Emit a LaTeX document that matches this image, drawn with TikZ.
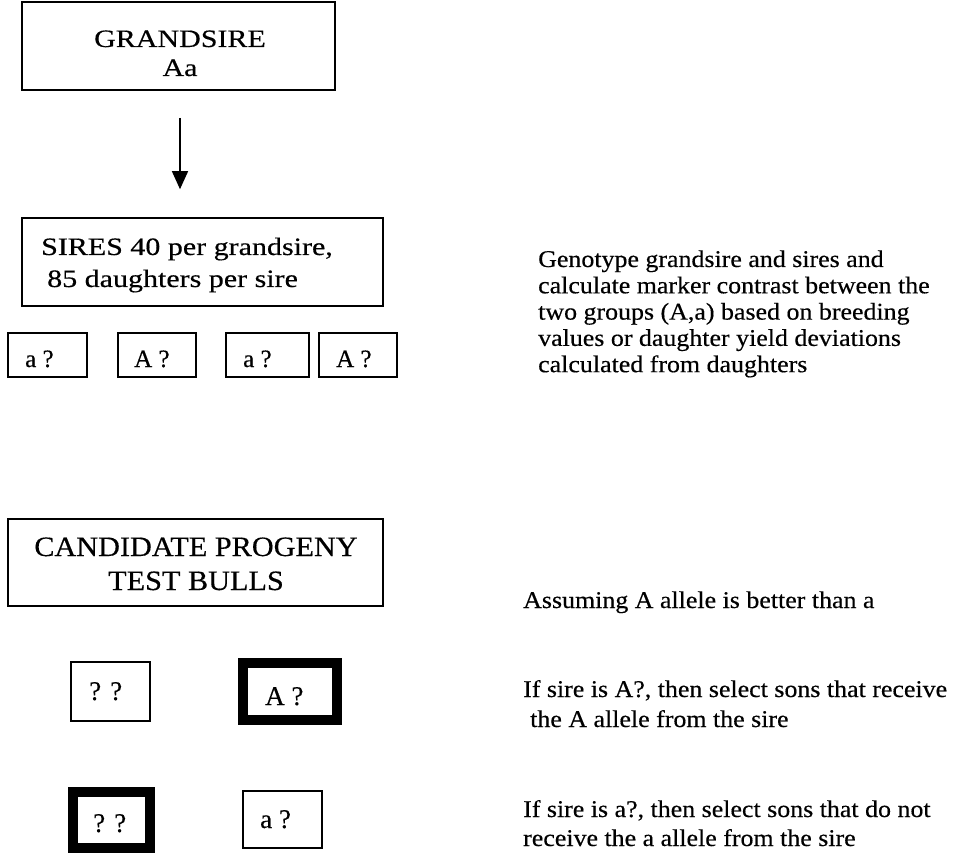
\documentclass[tikz,border=0pt]{standalone}
\usepackage{fontspec}
\setmainfont{Liberation Serif}[FakeBold=0.4]
\newfontfamily\widefont{Liberation Serif}[FakeStretch=1.08, FakeBold=0.4]
\newfontfamily\widerfont{Liberation Serif}[FakeStretch=1.2, FakeBold=0.4]
\usetikzlibrary{arrows.meta}
% stacked lines whose reference point is the first baseline
\newcommand\textlines[2]{\begin{tabular}[t]{@{}#1@{}}#2\end{tabular}}

\tikzset{
  frame/.style={draw, line width=1.6pt, inner sep=0pt},
  heavyframe/.style={draw, line width=10pt, inner sep=0pt},
  txt/.style={inner sep=0pt, anchor=base west},
  ctxt/.style={inner sep=0pt, anchor=base},
  flow/.style={line width=1.4pt, -{Triangle[length=18pt,width=16pt]}},
  boxfont/.style={font=\widerfont\fontsize{25}{29}\selectfont},
  genofont/.style={font=\fontsize{25}{29}\selectfont},
  bullfont/.style={font=\fontsize{27}{31}\selectfont},
  notefont/.style={font=\widefont\fontsize{24}{#1}\selectfont},
}

\begin{document}
\begin{tikzpicture}[x=1pt, y=-1pt]
\useasboundingbox (0,0) rectangle (959,853);

% grandsire
\node[frame, minimum width=313pt, minimum height=88pt] (gs) at (178.5,46) {};
\node[ctxt, boxfont] (gs-t) at (180,47) {\textlines{c}{GRANDSIRE\\Aa}};

% sires
\node[frame, minimum width=361pt, minimum height=88pt] (sires) at (202.5,262) {};
\node[txt, font=\widerfont\fontsize{25}{32}\selectfont] (sires-t) at (41,255)
  {\textlines{l}{SIRES 40 per grandsire,\\\hspace*{6pt}85 daughters per sire}};

\draw[flow, shorten <=27pt, shorten >=28pt]
  ([xshift=1.5pt]gs.south) -- ([xshift=1.5pt]gs.south |- sires.north);

% sire genotypes
\node[frame, minimum width=79pt, minimum height=44pt] (s1) at (47.5,355) {};
\node[frame, minimum width=78pt, minimum height=44pt] (s2) at (157,355) {};
\node[frame, minimum width=83pt, minimum height=44pt] (s3) at (267.5,355) {};
\node[frame, minimum width=78pt, minimum height=44pt] (s4) at (358,355) {};
\node[txt, genofont] (s1-t) at (25,367) {a ?};
\node[txt, genofont] (s2-t) at (134,367) {A ?};
\node[txt, genofont] (s3-t) at (243,367) {a ?};
\node[txt, genofont] (s4-t) at (336,367) {A ?};

% candidate bulls
\node[frame, minimum width=375pt, minimum height=87pt] (cand) at (195.5,562.5) {};
\node[ctxt, font=\widefont\fontsize{28}{34}\selectfont] (cand-t) at (196,556)
  {\textlines{c}{CANDIDATE PROGENY\\TEST BULLS}};

\node[frame, minimum width=79pt, minimum height=59pt] (b1) at (110.5,691.5) {};
\node[heavyframe, minimum width=94pt, minimum height=57pt] (b2) at (290,691.5) {};
\node[heavyframe, minimum width=77pt, minimum height=56pt] (b3) at (111,820) {};
\node[frame, minimum width=79pt, minimum height=57pt] (b4) at (282.5,819.5) {};
\node[txt, bullfont] (b1-t) at (89,700) {? ?};
\node[txt, bullfont] (b2-t) at (265,705) {A ?};
\node[txt, bullfont] (b3-t) at (93,832) {? ?};
\node[txt, bullfont] (b4-t) at (260,828) {a ?};

% notes
\node[txt, notefont=26.3] (n1) at (538,267) {\textlines{l}{%
  Genotype grandsire and sires and\\
  calculate marker contrast between the\\
  two groups (A,a) based on breeding\\
  values or daughter yield deviations\\
  calculated from daughters}};
\node[txt, notefont=28] (n2) at (523,608) {Assuming A allele is better than a};
\node[txt, notefont=30] (n3) at (523,697) {\textlines{l}{%
  If sire is A?, then select sons that receive\\
  \hspace*{7pt}the A allele from the sire}};
\node[txt, notefont=29] (n4) at (523,817) {\textlines{l}{%
  If sire is a?, then select sons that do not\\
  receive the a allele from the sire}};
\end{tikzpicture}
\end{document}
